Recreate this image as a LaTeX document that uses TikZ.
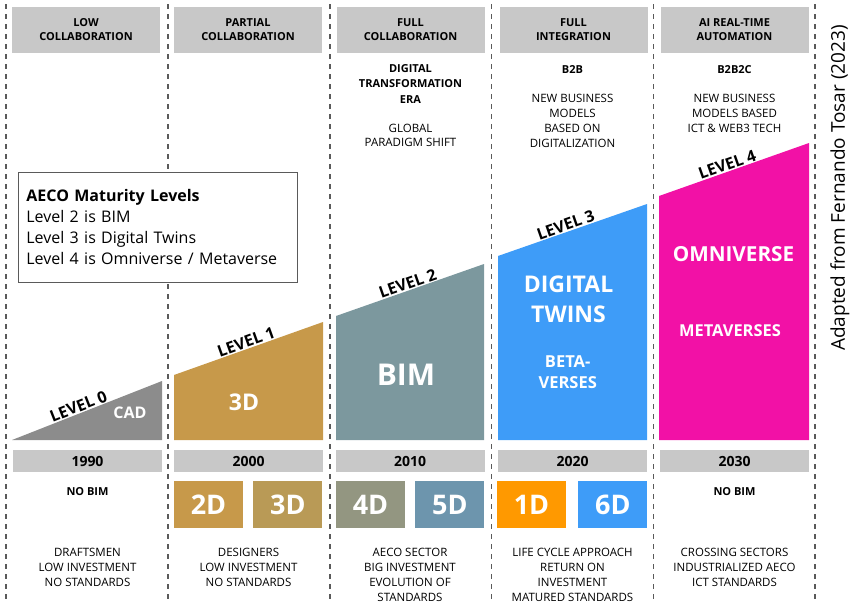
\documentclass[tikz,border=0pt]{standalone}
\usepackage{fontspec}
\setmainfont{Open Sans}
\usepackage{tikz}
\usetikzlibrary{positioning}
\definecolor{bargray}{HTML}{C8C8C8}
\definecolor{linegray}{HTML}{5A5A5A}
\definecolor{lvlzero}{HTML}{8C8C8C}
\definecolor{lvlone}{HTML}{C7994A}
\definecolor{lvltwo}{HTML}{7C989E}
\definecolor{lvlthree}{HTML}{3E9CF8}
\definecolor{lvlfour}{HTML}{F211A6}
\definecolor{dimthree}{HTML}{B99A56}
\definecolor{dimfour}{HTML}{939681}
\definecolor{dimfive}{HTML}{6D95AD}
\definecolor{dimone}{HTML}{FF9900}
\newcommand{\fsz}[2]{\fontsize{#1}{#2}\selectfont}
\tikzset{
divider/.style={draw=linegray, line width=1.1pt, dash pattern=on 5pt off 5pt},
hdr/.style={fill=bargray, minimum width=148pt, minimum height=46pt, inner sep=0pt, align=center, font=\bfseries\fsz{11}{14}},
yearbar/.style={fill=bargray, minimum width=149pt, minimum height=22pt, inner sep=0pt, font=\bfseries\fsz{14}{16}},
dimbox/.style={minimum width=69pt, minimum height=47pt, inner sep=0pt, text=white, font=\bfseries\fsz{27}{30}},
lvltxt/.style={font=\bfseries\fsz{16}{18}, inner sep=1pt},
intxt/.style={text=white, align=center, inner sep=0pt},
boldtxt/.style={font=\bfseries\fsz{11}{15.5}, align=center, inner sep=0pt, anchor=north},
plaintxt/.style={font=\fsz{11.5}{15}, align=center, inner sep=0pt, anchor=north}
}
\begin{document}
\begin{tikzpicture}[x=1pt, y=-1pt]
\useasboundingbox (0,0) rectangle (852,603);
\draw[divider] (6,4) -- (6,600);
\draw[divider] (168,4) -- (168,600);
\draw[divider] (330,4) -- (330,600);
\draw[divider] (491.5,4) -- (491.5,600);
\draw[divider] (653.5,4) -- (653.5,600);
\draw[divider] (815,4) -- (815,600);

\node[hdr] (h0) at (86,30) {LOW\\COLLABORATION};
\node[hdr] (h1) at (248,30) {PARTIAL\\COLLABORATION};
\node[hdr] (h2) at (410.5,30) {FULL\\COLLABORATION};
\node[hdr] (h3) at (573.5,30) {FULL\\INTEGRATION};
\node[hdr] (h4) at (734.5,30) {AI REAL-TIME\\AUTOMATION};

\node[boldtxt] (era) at (410.5,64) {DIGITAL\\TRANSFORMATION\\ERA};
\node[plaintxt, font=\fsz{11.5}{14}] (shift) at (410.5,124) {GLOBAL\\PARADIGM SHIFT};
\node[boldtxt] (btob) at (572.5,65.5) {B2B};
\node[plaintxt] (biz3) at (572.5,94.3) {NEW BUSINESS\\MODELS\\BASED ON\\DIGITALIZATION};
\node[boldtxt] (btobtoc) at (734.5,65.5) {B2B2C};
\node[plaintxt] (biz4) at (734.5,94.3) {NEW BUSINESS\\MODELS BASED\\ICT \& WEB3 TECH};

\node[draw=linegray, fill=white, line width=0.8pt, anchor=north west, text width=263pt, minimum height=110pt, inner xsep=8pt, align=left, font=\fsz{16}{21}] (legend) at (18,172) {\textbf{AECO Maturity Levels}\\Level 2 is BIM\\Level 3 is Digital Twins\\Level 4 is Omniverse / Metaverse};

\fill[lvlzero] (12,440) coordinate (l0a) -- (162,381) coordinate (l0b) -- (162,440) -- cycle;
\fill[lvlone] (174,440) -- (174,375) coordinate (l1a) -- (323,322) coordinate (l1b) -- (323,440) -- cycle;
\fill[lvltwo] (336,440) -- (336,316) coordinate (l2a) -- (484,264) coordinate (l2b) -- (484,440) -- cycle;
\fill[lvlthree] (498,440) -- (498,256) coordinate (l3a) -- (647,204) coordinate (l3b) -- (647,440) -- cycle;
\fill[lvlfour] (659,440) -- (659,196) coordinate (l4a) -- (809,143) coordinate (l4b) -- (809,440) -- cycle;
\path (l0a) -- (l0b) node[lvltxt, pos=0.46, sloped, above] (lv0) {LEVEL 0};
\path (l1a) -- (l1b) node[lvltxt, pos=0.5, sloped, above] (lv1) {LEVEL 1};
\path (l2a) -- (l2b) node[lvltxt, pos=0.5, sloped, above] (lv2) {LEVEL 2};
\path (l3a) -- (l3b) node[lvltxt, pos=0.47, sloped, above] (lv3) {LEVEL 3};
\path (l4a) -- (l4b) node[lvltxt, pos=0.47, sloped, above] (lv4) {LEVEL 4};

\node[intxt, font=\bfseries\fsz{16}{18}] (cad) at (130,413) {CAD};
\node[intxt, font=\bfseries\fsz{23}{26}] (three) at (244,402) {3D};
\node[intxt, font=\bfseries\fsz{30}{34}] (bim) at (406,375) {BIM};
\node[intxt, font=\bfseries\fsz{23}{30}] (twins) at (568.5,299) {DIGITAL\\TWINS};
\node[intxt, font=\bfseries\fsz{16.5}{20.7}] (beta) at (567.7,372) {BETA-\\VERSES};
\node[intxt, font=\bfseries\fsz{20.7}{24}] (omni) at (733.5,254) {OMNIVERSE};
\node[intxt, font=\bfseries\fsz{16.4}{20}] (meta) at (730,330.3) {METAVERSES};

\node[yearbar] (y0) at (87.5,461) {1990};
\node[yearbar] (y1) at (248.5,461) {2000};
\node[yearbar] (y2) at (410,461) {2010};
\node[yearbar] (y3) at (572.5,461) {2020};
\node[yearbar] (y4) at (734.5,461) {2030};

\node[boldtxt] (nobim0) at (87.5,487) {NO BIM};
\node[boldtxt] (nobim4) at (734.5,487) {NO BIM};
\node[dimbox, fill=lvlone] (d2) at (208.5,504.5) {2D};
\node[dimbox, fill=dimthree, right=10pt of d2] (d3) {3D};
\node[dimbox, fill=dimfour] (d4) at (370.5,504.5) {4D};
\node[dimbox, fill=dimfive, right=10pt of d4] (d5) {5D};
\node[dimbox, fill=dimone] (d1) at (531.5,504.5) {1D};
\node[dimbox, fill=lvlthree, right=12pt of d1] (d6) {6D};

\node[plaintxt] (b0) at (87.5,548) {DRAFTSMEN\\LOW INVESTMENT\\NO STANDARDS};
\node[plaintxt] (b1) at (248.5,548) {DESIGNERS\\LOW INVESTMENT\\NO STANDARDS};
\node[plaintxt] (b2) at (410,548) {AECO SECTOR\\BIG INVESTMENT\\EVOLUTION OF\\STANDARDS};
\node[plaintxt] (b3) at (572.5,548) {LIFE CYCLE APPROACH\\RETURN ON\\INVESTMENT\\MATURED STANDARDS};
\node[plaintxt] (b4) at (734.5,548) {CROSSING SECTORS\\INDUSTRIALIZED AECO\\ICT STANDARDS};

\node[rotate=90, font=\fsz{19}{21}, inner sep=0pt] (src) at (840,188) {Adapted from Fernando Tosar (2023)};
\end{tikzpicture}
\end{document}
